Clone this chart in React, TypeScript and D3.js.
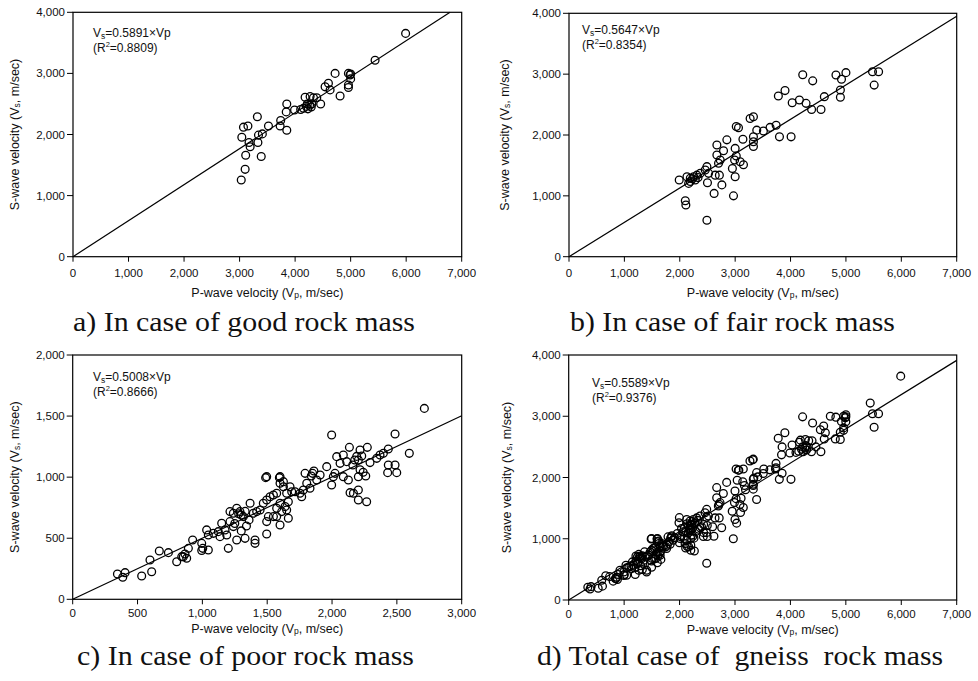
import React from "react";
import * as d3 from "d3";

// ---- Data (P-wave velocity Vp, S-wave velocity Vs), m/sec ----
const goodVp = [5990,5440,4720,4960,4990,5000,5000,4960,4960,4810,4540,4600,4630,4460,4390,4180,4270,4330,4150,4200,4230,4260,4290,4300,4220,4100,3990,3850,3840,3850,3740,3730,3520,3410,3340,3320,3330,3390,3150,3070,3040,3170,3190,3110,3100,3030];
const goodVs = [3655,3215,3000,3000,2975,2990,2910,2810,2770,2630,2780,2840,2730,2500,2600,2610,2620,2600,2430,2460,2420,2480,2450,2500,2500,2410,2400,2500,2370,2070,2230,2140,2140,2010,1990,2290,1870,1640,2140,2120,1955,1870,1800,1660,1430,1255];

const fairVp = [5590,5480,5510,5000,4820,4920,4900,4900,4610,4550,4380,4280,4220,4400,4160,4030,3900,3780,3740,3630,3510,3390,3330,3270,3330,3330,3330,3800,4010,3060,3020,3140,3000,3020,2990,3090,3150,2950,3000,2970,2850,2790,2670,2670,2700,2730,2715,2640,2760,2620,2490,2460,2500,2520,2490,2370,2310,2250,2190,2130,2190,2280,2160,1990,2100,2110,2230,2330];
const fairVs = [3040,3040,2820,3025,2985,2915,2740,2620,2630,2420,2420,2520,2990,2890,2575,2530,2730,2640,2160,2125,2065,2080,2300,2270,1970,1890,1810,1970,1970,2120,2140,1930,1780,1655,1590,1560,1510,1450,1315,1000,1920,1740,1835,1670,1535,1590,1340,1340,1180,1040,1480,1425,1215,1370,600,1370,1340,1315,1290,1315,1235,1260,1205,1260,920,850,1280,1300];

const poorVp = [2712,2596,2486,2486,2499,2434,2429,2434,2396,2370,2345,1997,2134,2160,2175,2190,2272,2293,2216,2229,2203,2087,2062,2113,2036,2023,2010,1997,2087,2126,2139,2165,2203,2203,2267,2203,2216,2240,2260,1959,1908,1882,1850,1860,1840,1805,1779,1830,1753,1766,1792,1715,1676,1689,1650,1663,1650,1663,1625,1599,1625,1599,1496,1548,1573,1522,1496,1470,1599,1573,1612,1638,1599,1496,1496,1548,1573,1509,1445,1419,1393,1368,1316,1290,1239,1213,1265,1280,1300,1330,1149,1213,1239,1175,1123,1085,1265,1329,1406,1406,1200,1136,1188,1033,1046,1046,995,1003,995,925,892,866,879,853,841,802,738,668,596,609,532,404,345,386,1488,1594,1340,1360,1250,1300];
const poorVs = [1563,1195,1353,1100,1037,1100,1037,1231,1195,1181,1154,1345,1244,1100,1140,1170,1244,1119,1222,1173,1140,1181,1113,1127,1168,1031,1004,936,1004,977,873,868,895,813,799,1004,1060,1040,1010,1086,1018,977,1031,1050,1010,950,895,909,868,840,1031,881,922,881,868,799,731,663,922,950,963,1004,1004,854,868,840,813,786,786,745,718,759,608,535,636,677,677,677,731,718,704,786,677,718,704,718,745,700,690,720,622,636,595,568,554,540,486,499,458,486,417,513,527,568,527,404,458,417,399,486,417,371,336,349,349,308,382,395,322,226,191,218,207,180,996,996,600,650,620,560];

// Total case = all three rock-mass groups together
const totalVp = [...goodVp, ...fairVp, ...poorVp];
const totalVs = [...goodVs, ...fairVs, ...poorVs];

const slopes = [0.5891, 0.5647, 0.5008, 0.5589];
const r2Labels = ["0.8809", "0.8354", "0.8666", "0.9376"];
const captions = [
  "a) In case of good rock mass",
  "b) In case of fair rock mass",
  "c) In case of poor rock mass",
  "d) Total case of  gneiss  rock mass",
];
const xMaxes = [7000, 7000, 3000, 7000];
const yMaxes = [4000, 4000, 2000, 4000];
const xSteps = [1000, 1000, 500, 1000];
const ySteps = [1000, 1000, 500, 1000];

type Layout = {
  left: number; right: number; top: number; bottom: number;
  eqX: number; eqY: number; yLabX: number; xTickDy: number; xLabDy: number;
  capX: number; capY: number; capW: number;
};

const layouts: Layout[] = [
  { left: 73, right: 461.7, top: 12.3, bottom: 256.7, eqX: 93, eqY: 37, yLabX: 19, xTickDy: 20, xLabDy: 40, capX: 73, capY: 331, capW: 342 },
  { left: 569, right: 956.7, top: 13.3, bottom: 256.7, eqX: 582, eqY: 34, yLabX: 509, xTickDy: 20, xLabDy: 40, capX: 570, capY: 331, capW: 325 },
  { left: 72.7, right: 461.7, top: 355, bottom: 599.3, eqX: 93, eqY: 381, yLabX: 19, xTickDy: 18, xLabDy: 34, capX: 77, capY: 665, capW: 337 },
  { left: 568.7, right: 956.7, top: 355, bottom: 600, eqX: 592, eqY: 387, yLabX: 511, xTickDy: 18, xLabDy: 34, capX: 537, capY: 665, capW: 406 },
];

const fmt = d3.format(",");
const FONT = "'Liberation Sans', Arial, sans-serif";

function Panel({ idx, vp, vs }: { idx: number; vp: number[]; vs: number[] }) {
  const L = layouts[idx];
  const x = d3.scaleLinear().domain([0, xMaxes[idx]]).range([L.left, L.right]);
  const y = d3.scaleLinear().domain([0, yMaxes[idx]]).range([L.bottom, L.top]);
  const xt = d3.range(0, xMaxes[idx] + 1, xSteps[idx]);
  const yt = d3.range(0, yMaxes[idx] + 1, ySteps[idx]);
  const k = slopes[idx];
  // regression line clipped to the plot area
  let xe = xMaxes[idx];
  if (k * xe > yMaxes[idx]) xe = yMaxes[idx] / k;
  const line = d3.line<[number, number]>().x((d) => x(d[0])).y((d) => y(d[1]));
  const midY = (L.top + L.bottom) / 2;
  const midX = (L.left + L.right) / 2;
  return (
    <g>
      <rect x={L.left} y={L.top} width={L.right - L.left} height={L.bottom - L.top} fill="none" stroke="#000" strokeWidth={1.2} />
      {xt.map((t) => (
        <g key={"x" + t}>
          <line x1={x(t)} x2={x(t)} y1={L.bottom} y2={L.bottom + 5} stroke="#000" strokeWidth={1} />
          <text x={x(t)} y={L.bottom + L.xTickDy} textAnchor="middle" fontSize={11.5} fontFamily={FONT} fill="#111">{fmt(t)}</text>
        </g>
      ))}
      {yt.map((t) => (
        <g key={"y" + t}>
          <line x1={L.left - 6} x2={L.left} y1={y(t)} y2={y(t)} stroke="#000" strokeWidth={1} />
          <text x={L.left - 8} y={y(t) + 4} textAnchor="end" fontSize={11.5} fontFamily={FONT} fill="#111">{fmt(t)}</text>
        </g>
      ))}
      <path d={line([[0, 0], [xe, k * xe]]) || ""} fill="none" stroke="#000" strokeWidth={1.2} />
      {vp.map((v, i) => (
        <circle key={i} cx={x(v)} cy={y(vs[i])} r={3.9} fill="none" stroke="#000" strokeWidth={1.3} />
      ))}
      <text x={L.eqX} y={L.eqY} fontSize={12} fontFamily={FONT} fill="#111">
        V<tspan fontSize={8.5} dy={2}>s</tspan><tspan dy={-2}>={k.toFixed(4)}×Vp</tspan>
      </text>
      <text x={L.eqX} y={L.eqY + 15} fontSize={12} fontFamily={FONT} fill="#111">
        (R<tspan fontSize={7.5} dy={-5}>2</tspan><tspan dy={5}>={r2Labels[idx]})</tspan>
      </text>
      <text x={midX} y={L.bottom + L.xLabDy} textAnchor="middle" fontSize={12.5} fontFamily={FONT} fill="#111">
        P-wave velocity (V<tspan fontSize={8.5} dy={1}>p</tspan><tspan dy={-1}>, m/sec)</tspan>
      </text>
      <text transform={`translate(${L.yLabX},${midY}) rotate(-90)`} textAnchor="middle" fontSize={12.5} fontFamily={FONT} fill="#111">
        S-wave velocity (V<tspan fontSize={8.5} dy={1}>s</tspan><tspan dy={-1}>, m/sec)</tspan>
      </text>
      <text x={L.capX} y={L.capY} fontSize={27} fontFamily="'Liberation Serif', 'DejaVu Serif', serif" fill="#111" textLength={L.capW} lengthAdjust="spacingAndGlyphs" style={{ whiteSpace: "pre" }}>
        {captions[idx]}
      </text>
    </g>
  );
}

export default function App() {
  const sets: [number[], number[]][] = [
    [goodVp, goodVs],
    [fairVp, fairVs],
    [poorVp, poorVs],
    [totalVp, totalVs],
  ];
  return (
    <svg width={978} height={681} style={{ position: "absolute", left: 0, top: 0, background: "#fff" }}>
      <rect width={978} height={681} fill="#fff" />
      {sets.map((s, i) => (
        <Panel key={i} idx={i} vp={s[0]} vs={s[1]} />
      ))}
    </svg>
  );
}
